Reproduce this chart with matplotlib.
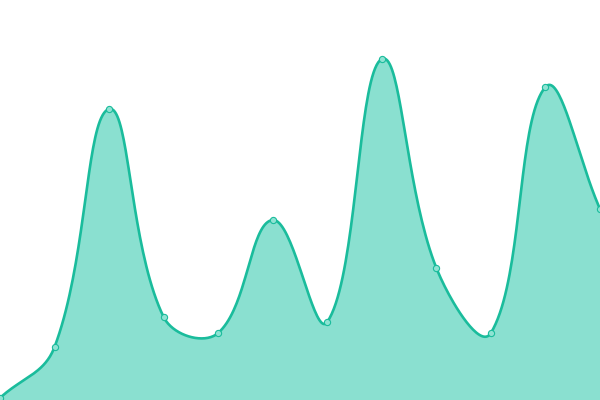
import matplotlib
matplotlib.use("Agg")
import matplotlib.pyplot as plt
import numpy as np

# values (0 at bottom, 400 at top)
idx = list(range(12))
values = [2, 53, 291, 83, 67, 180, 78, 341, 132, 67, 313, 191]

line_col = "#1abc9c"
fill_col = "#8ae0d0"
dot_col = "#8fe3d3"

xpx = 600 / 11  # pixels per x step, used only to weight the spline


def smooth(xs, ys, tension=0.4, n=40):
    # chart.js style spline, distances weighted in pixel space
    p = np.column_stack([np.asarray(xs, float) * xpx, np.asarray(ys, float)])
    k = len(p)
    cp_prev = np.zeros_like(p)
    cp_next = np.zeros_like(p)
    for i in range(k):
        prev = p[max(i - 1, 0)]
        cur = p[i]
        nxt = p[min(i + 1, k - 1)]
        d01 = np.hypot(*(cur - prev))
        d12 = np.hypot(*(nxt - cur))
        s01 = d01 / (d01 + d12) if d01 + d12 else 0
        s12 = d12 / (d01 + d12) if d01 + d12 else 0
        cp_prev[i] = cur - tension * s01 * (nxt - prev)
        cp_next[i] = cur + tension * s12 * (nxt - prev)
    cp_prev[:, 1] = np.clip(cp_prev[:, 1], 0, 400)
    cp_next[:, 1] = np.clip(cp_next[:, 1], 0, 400)
    outx, outy = [], []
    s = np.linspace(0, 1, n)[:, None]
    for i in range(k - 1):
        p0, c1, c2, p3 = p[i], cp_next[i], cp_prev[i + 1], p[i + 1]
        b = (1 - s) ** 3 * p0 + 3 * (1 - s) ** 2 * s * c1 + 3 * (1 - s) * s ** 2 * c2 + s ** 3 * p3
        outx.extend(b[:, 0] / xpx)
        outy.extend(b[:, 1])
    return np.array(outx), np.array(outy)


sx, sy = smooth(idx, values)

fig = plt.figure(figsize=(6, 4), dpi=100)
ax = fig.add_axes([0, 0, 1, 1])
ax.fill_between(sx, sy, 0, color=fill_col, lw=0)
ax.plot(sx, sy, color=line_col, lw=1.9, solid_capstyle="round")
ax.scatter(idx, values, s=20, color=dot_col, edgecolor=line_col, linewidth=0.8, zorder=3, clip_on=False)
ax.set_xlim(0, 11)
ax.set_ylim(0, 400)
ax.axis("off")
fig.savefig("out.png", dpi=100)
